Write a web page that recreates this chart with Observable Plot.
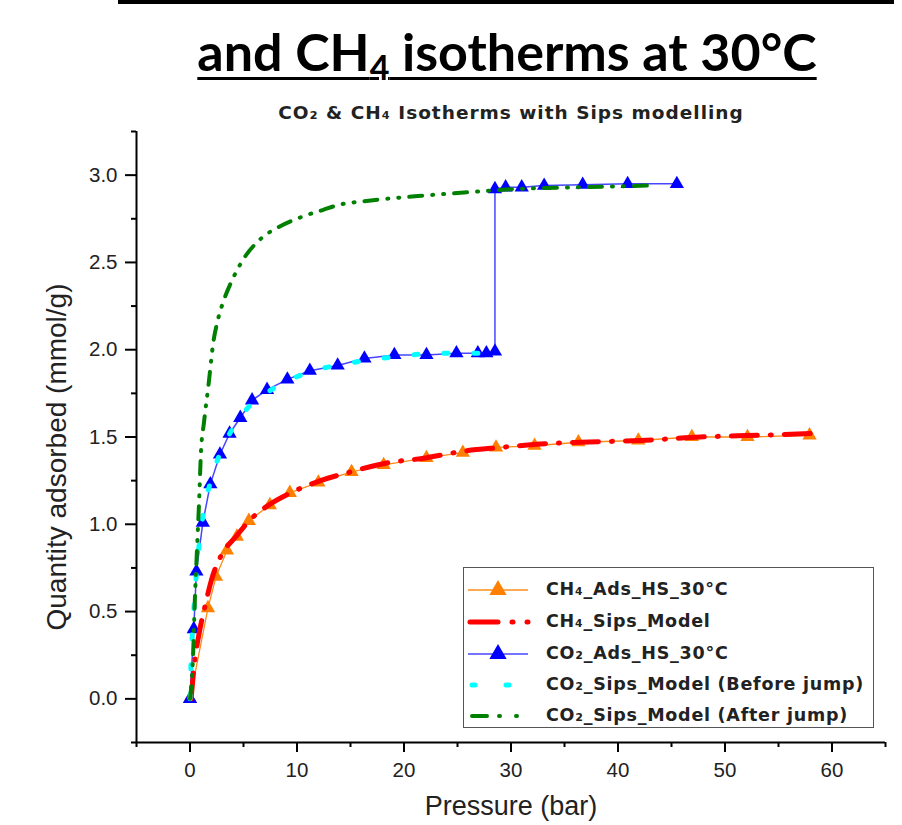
<!DOCTYPE html>
<html>
<head>
<meta charset="utf-8">
<script src="https://cdn.jsdelivr.net/npm/d3@7"></script>
<script src="https://cdn.jsdelivr.net/npm/@observablehq/plot@0.6"></script>
<style>
  html, body { margin: 0; padding: 0; background: #fff; }
  #wrap { position: relative; width: 902px; height: 825px; overflow: hidden; }
  #wrap svg { position: absolute; left: 0; top: 0; }
  .ov { position: absolute; white-space: nowrap; }
  #topbar { left: 118px; top: 0; width: 776px; height: 4px; background: #000; }
  #title { left: 0; width: 1014px; top: 20px; text-align: center; font: 700 52px Lato, sans-serif; color: #000;
           text-decoration: underline; text-decoration-thickness: 3px; text-underline-offset: 6px; }
  #title sub { font-size: 34px; vertical-align: -9px; }
  #subtitle { left: 0; width: 1022px; top: 102px; text-align: center; font: 700 18.5px "DejaVu Sans", sans-serif; letter-spacing: 1px; color: #222; }
  #xlabel { left: 0; width: 1022px; top: 793px; line-height: 27px; text-align: center; font: 27px/27px "Liberation Sans", Arial, sans-serif; color: #222; }
  #ylabel { left: 57px; top: 457px; transform: translate(-50%, -50%) rotate(-90deg); font: 28px "Liberation Sans", Arial, sans-serif; color: #222; }
  #legend { left: 463px; top: 567px; width: 409px; height: 159px; border: 1.5px solid #555; background: #fff; }
  .lrow { position: absolute; left: 0; height: 30px; width: 409px; }
  .lrow svg { position: absolute; left: 12px; top: 0; }
  .lrow span { position: absolute; left: 82px; top: 4px; font: 700 17.5px "DejaVu Sans", sans-serif; letter-spacing: 0.75px; color: #222; }
</style>
</head>
<body>
<div id="wrap"></div>
<script>
// ---------- data ----------
const ch4Pressure = [0, 1.68, 2.43, 3.45, 4.38, 5.5, 7.46, 9.33, 12.0, 15.1, 18.1, 22.1, 25.5, 28.6, 32.2, 36.3, 41.9, 46.9, 52.1, 57.9];
const ch4Adsorbed = [0, 0.52, 0.70, 0.85, 0.93, 1.02, 1.11, 1.18, 1.24, 1.30, 1.34, 1.38, 1.41, 1.44, 1.45, 1.47, 1.48, 1.50, 1.50, 1.51];

const co2Pressure = [0, 0.35, 0.6, 1.2, 1.9, 2.8, 3.7, 4.7, 5.8, 7.2, 9.1, 11.2, 13.8, 16.3, 19.1, 22.1, 24.9, 26.9, 27.7, 28.5, 28.5, 29.5, 31.0, 33.1, 36.7, 40.9, 45.5];
const co2Adsorbed = [0, 0.40, 0.73, 1.01, 1.23, 1.40, 1.52, 1.61, 1.71, 1.77, 1.83, 1.88, 1.91, 1.95, 1.97, 1.97, 1.98, 1.98, 1.98, 1.99, 2.92, 2.93, 2.93, 2.94, 2.945, 2.95, 2.95];

const ch4ModelP = [0.1, 0.45, 0.9, 1.4, 2.0, 2.9, 4.3, 5.7, 7.6, 9.4, 12.2, 15.0, 18.3, 22.0, 25.7, 29.0, 32.7, 36.5, 42.1, 47.7, 53.3, 58.1];
const ch4ModelQ = [0.0, 0.22, 0.39, 0.53, 0.68, 0.82, 0.93, 1.03, 1.12, 1.18, 1.25, 1.30, 1.35, 1.38, 1.42, 1.44, 1.46, 1.47, 1.48, 1.50, 1.51, 1.52];

const co2BeforeP = [0, 0.1, 0.3, 0.55, 0.85, 1.3, 2.0, 2.9, 4.0, 5.3, 7.1, 9.4, 12.2, 15.5, 19.2, 23.4, 28.1];
const co2BeforeQ = [0, 0.22, 0.45, 0.68, 0.88, 1.08, 1.26, 1.42, 1.55, 1.66, 1.75, 1.83, 1.89, 1.93, 1.96, 1.98, 1.98];

const co2AfterP = [0, 0.3, 0.45, 0.65, 0.85, 1.03, 1.3, 1.77, 2.15, 2.6, 3.2, 3.8, 4.9, 6.7, 8.2, 10.4, 12.4, 13.9, 16.2, 21.3, 25.6, 30.2, 36.0, 42.7];
const co2AfterQ = [0, 0.27, 0.56, 0.85, 1.13, 1.42, 1.58, 1.82, 2.03, 2.17, 2.29, 2.38, 2.51, 2.64, 2.70, 2.76, 2.80, 2.83, 2.85, 2.88, 2.90, 2.92, 2.93, 2.94];

const xMajorTicks = [0, 10, 20, 30, 40, 50, 60];
const xMinorTicks = [-5, 5, 15, 25, 35, 45, 55, 65];
const yMajorTicks = [0, 0.5, 1.0, 1.5, 2.0, 2.5, 3.0];
const yMinorTicks = [-0.25, 0.25, 0.75, 1.25, 1.75, 2.25, 2.75, 3.25];

const seriesNames = ["CH₄_Ads_HS_30°C", "CH₄_Sips_Model", "CO₂_Ads_HS_30°C", "CO₂_Sips_Model (Before jump)", "CO₂_Sips_Model (After jump)"];

// ---------- styles ----------
const C = {
  ch4Line: "#ff8c1a", ch4Mark: "#ff8000", ch4Model: "#ff0000",
  co2Line: "#4646ff", co2Mark: "#0000ff", before: "#00ffff", after: "#008000"
};
const dash = { red: "26,13,1,13", cyan: "4,26", green: "13,10,1,10,1,10" };

const zip = (xs, ys) => xs.map((x, i) => ({x, y: ys[i]}));
const ch4 = zip(ch4Pressure, ch4Adsorbed);
const co2 = zip(co2Pressure, co2Adsorbed);
const ch4Model = zip(ch4ModelP, ch4ModelQ);
const co2Before = zip(co2BeforeP, co2BeforeQ);
const co2After = zip(co2AfterP, co2AfterQ);

const chart = Plot.plot({
  width: 902, height: 825,
  marginLeft: 136, marginRight: 17, marginTop: 131, marginBottom: 83,
  x: {domain: [-5, 65]},
  y: {domain: [-0.25, 3.25]},
  style: {fontFamily: "'Liberation Sans', Arial, sans-serif", fontSize: "20.5px", color: "#222", background: "transparent"},
  marks: [
    Plot.axisX({ticks: xMajorTicks, tickSize: 10, tickPadding: 10, tickFormat: d => String(d), label: null, strokeWidth: 2, stroke: "#000", fill: "#222"}),
    Plot.axisX({ticks: xMinorTicks, tickSize: 5, tickFormat: () => "", label: null, strokeWidth: 2, stroke: "#000"}),
    Plot.axisY({ticks: yMajorTicks, tickSize: 11, tickPadding: 8, tickFormat: d3.format(".1f"), label: null, strokeWidth: 2, stroke: "#000", fill: "#222"}),
    Plot.axisY({ticks: yMinorTicks, tickSize: 5, tickFormat: () => "", label: null, strokeWidth: 2, stroke: "#000"}),
    Plot.ruleX([-5], {stroke: "#000", strokeWidth: 2}),
    Plot.ruleY([-0.25], {stroke: "#000", strokeWidth: 2}),
    // data
    Plot.line(ch4, {x: "x", y: "y", stroke: C.ch4Line, strokeWidth: 1.3}),
    Plot.dot(ch4, {x: "x", y: "y", symbol: "triangle", r: 5.3, fill: C.ch4Mark, stroke: "none"}),
    Plot.line(co2, {x: "x", y: "y", stroke: C.co2Line, strokeWidth: 1.5}),
    Plot.dot(co2, {x: "x", y: "y", symbol: "triangle", r: 5.3, fill: C.co2Mark, stroke: "none"}),
    // models
    Plot.line(ch4Model, {x: "x", y: "y", stroke: C.ch4Model, strokeWidth: 5, strokeDasharray: dash.red, strokeLinecap: "round", curve: "monotone-x"}),
    Plot.line(co2Before, {x: "x", y: "y", stroke: C.before, strokeWidth: 5, strokeDasharray: dash.cyan, strokeLinecap: "round", curve: "monotone-x"}),
    Plot.line(co2After, {x: "x", y: "y", stroke: C.after, strokeWidth: 4, strokeDasharray: dash.green, strokeLinecap: "round", curve: "monotone-x"})
  ]
});

const wrap = document.getElementById("wrap");
wrap.appendChild(chart);

function ov(id, html) {
  const d = document.createElement("div");
  d.className = "ov"; d.id = id; d.innerHTML = html;
  wrap.appendChild(d);
  return d;
}
ov("topbar", "");
ov("title", "and CH<sub>4</sub> isotherms at 30°C");
ov("subtitle", "CO₂ &amp; CH₄ Isotherms with Sips modelling");
ov("xlabel", "Pressure (bar)");
ov("ylabel", "Quantity adsorbed (mmol/g)");

const legend = ov("legend", "");
const samples = [
  `<line x1="4" y1="15" x2="64" y2="15" stroke="${C.ch4Line}" stroke-width="1.3"/><path d="${d3.symbol(d3.symbolTriangle, 130)()}" transform="translate(34,15)" fill="${C.ch4Mark}"/>`,
  `<line x1="6" y1="15" x2="64" y2="15" stroke="${C.ch4Model}" stroke-width="5" stroke-linecap="round" stroke-dasharray="28,14,1,14"/>`,
  `<line x1="4" y1="15" x2="64" y2="15" stroke="${C.co2Line}" stroke-width="1.5"/><path d="${d3.symbol(d3.symbolTriangle, 130)()}" transform="translate(34,15)" fill="${C.co2Mark}"/>`,
  `<line x1="8" y1="15" x2="64" y2="15" stroke="${C.before}" stroke-width="5" stroke-linecap="round" stroke-dasharray="3,31"/>`,
  `<line x1="8" y1="15" x2="64" y2="15" stroke="${C.after}" stroke-width="4" stroke-linecap="round" stroke-dasharray="15,12,1,16,1,20"/>`
];
const rowTops = [7, 39, 71, 102, 133];
seriesNames.forEach((name, i) => {
  const r = document.createElement("div");
  r.className = "lrow";
  r.style.top = rowTops[i] + "px";
  r.innerHTML = `<svg width="70" height="30">${samples[i]}</svg><span>${name}</span>`;
  legend.appendChild(r);
});
</script>
</body>
</html>
